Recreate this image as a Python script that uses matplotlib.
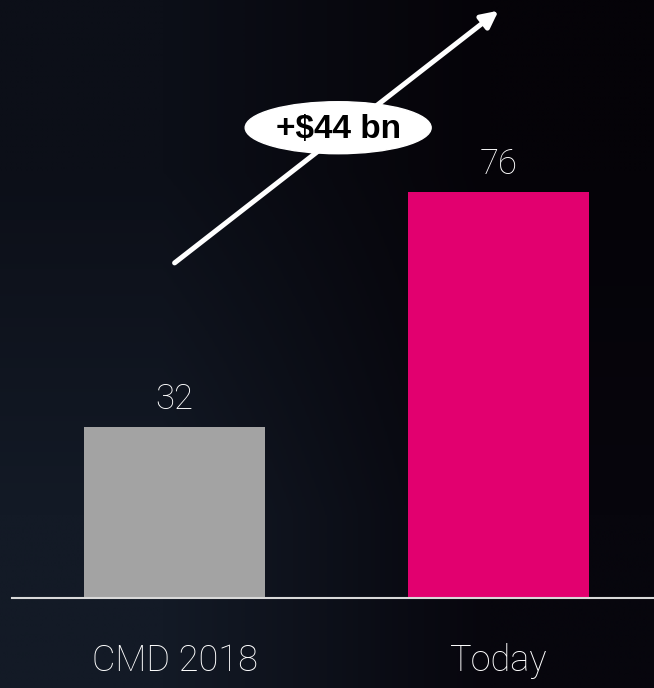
import numpy as np
import matplotlib.pyplot as plt
from matplotlib.patches import Ellipse

# data
categories = ['CMD 2018', 'Today']
values = [32, 76]
bar_colors = ['#a3a3a3', '#e2006f']
delta_label = '+$44 bn'

fig = plt.figure(figsize=(6.54, 6.88), dpi=100)

# background gradient (bottom-left navy -> top-right black)
bg = fig.add_axes([0, 0, 1, 1], zorder=0)
corners = np.array([[[0x0c, 0x0f, 0x18], [0x05, 0x03, 0x08]],
                    [[0x13, 0x1a, 0x26], [0x07, 0x06, 0x0d]]]) / 255.0
bg.imshow(corners, interpolation='bilinear', aspect='auto', extent=[0, 1, 0, 1])
bg.axis('off')

ax = fig.add_axes([0, 0, 1, 1], zorder=1)
ax.patch.set_alpha(0)
ax.axis('off')

x = np.arange(len(categories))
ax.bar(x, values, width=0.559, color=bar_colors, zorder=2)
ax.set_xlim(-0.539, 1.48)
ax.set_ylim(-16.85, 111.9)

# baseline
ax.axhline(0, xmin=12 / 654, xmax=1, color='#d9d9d9', lw=1.5, zorder=3)

for xi, v, lab in zip(x, values, categories):
    ax.annotate(str(v), (xi, v), xytext=(0, 8), textcoords='offset points',
                ha='center', va='bottom', color='white', fontsize=25,
                family='Roboto', fontweight='light')
    ax.text(xi, -11.8, lab, ha='center', va='center', color='white',
            fontsize=26, family='Roboto', fontweight='light')

# growth arrow
start = (x[0], 62.7)
end = (x[1], 109.9)
ax.annotate('', xy=end, xytext=start,
            arrowprops=dict(arrowstyle='-|>,head_length=1.0,head_width=0.5',
                            color='white', lw=3.6, shrinkA=0, shrinkB=0),
            zorder=4)
cx = (start[0] + end[0]) / 2 + 0.005
cy = (start[1] + end[1]) / 2 + 1.7
ax.add_patch(Ellipse((cx, cy), 186 / 324, 52 / 5.342, color='white', zorder=5))
ax.text(cx, cy - 0.3, delta_label, ha='center', va='center', color='black',
        fontsize=24, fontweight='bold', family='Liberation Sans', zorder=6)

fig.savefig('out.png', dpi=100)
